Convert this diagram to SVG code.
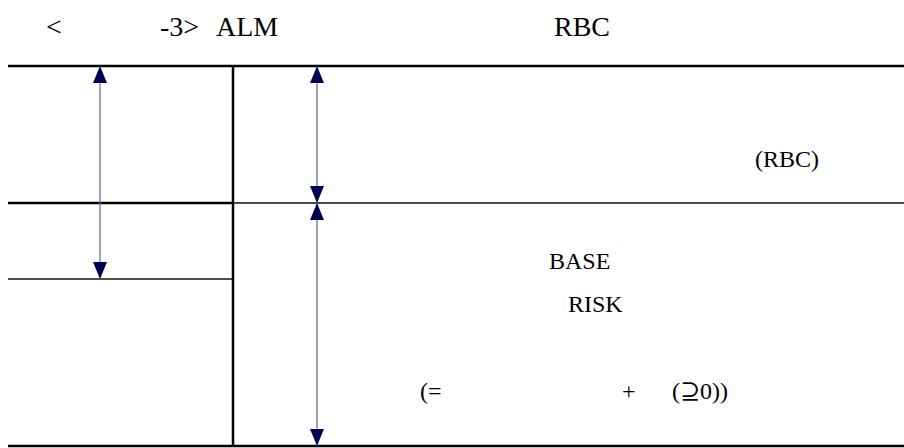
<svg xmlns="http://www.w3.org/2000/svg" width="904" height="448" viewBox="0 0 904 448">
  <style>
    text { font-family: 'Liberation Serif', 'Times New Roman', 'DejaVu Serif', serif; fill: #000; }
    .title { font-size: 28px; }
    .lbl { font-size: 24px; }
    .thick { stroke: #000; stroke-width: 2.5; fill: none; }
    .thin { stroke: #111; stroke-width: 1.3; fill: none; }
    .arr { stroke: #6f6f9f; stroke-width: 1.3; fill: none; marker-start: url(#head); marker-end: url(#head); }
  </style>
  <defs>
    <marker id="head" markerUnits="userSpaceOnUse" markerWidth="17" markerHeight="14" refX="17" refY="7" orient="auto-start-reverse">
      <path d="M0,0 L17,7 L0,14 Z" fill="#000050"/>
    </marker>
  </defs>
  <rect width="904" height="448" fill="#fff"/>

  <g id="title">
    <text class="title" x="46" y="36">&lt;</text>
    <text class="title" x="160" y="36">-3&gt;</text>
    <text class="title" x="216" y="36">ALM</text>
    <text class="title" x="554" y="36">RBC</text>
  </g>

  <g id="frame">
    <line class="thick" x1="8" y1="66" x2="904" y2="66"/>
    <line class="thick" x1="8" y1="203" x2="233" y2="203"/>
    <line class="thin" x1="233" y1="203" x2="904" y2="203"/>
    <line class="thin" x1="8" y1="279" x2="233" y2="279"/>
    <line class="thick" x1="233" y1="66" x2="233" y2="447"/>
    <line class="thick" x1="8" y1="446" x2="904" y2="446"/>
  </g>

  <g id="connectors">
    <line class="arr" x1="100" y1="66" x2="100" y2="279"/>
    <line class="arr" x1="317" y1="66" x2="317" y2="203"/>
    <line class="arr" x1="317" y1="203" x2="317" y2="446"/>
  </g>

  <g id="node-rbc">
    <text class="lbl" x="755" y="167">(RBC)</text>
  </g>
  <g id="node-base">
    <text class="lbl" x="549" y="269">BASE</text>
    <text class="lbl" x="568" y="312">RISK</text>
  </g>
  <g id="node-formula">
    <text class="lbl" x="420" y="399">(=</text>
    <text class="lbl" x="622" y="399">+</text>
    <text class="lbl" x="672" y="399">(⊇0))</text>
  </g>
</svg>
